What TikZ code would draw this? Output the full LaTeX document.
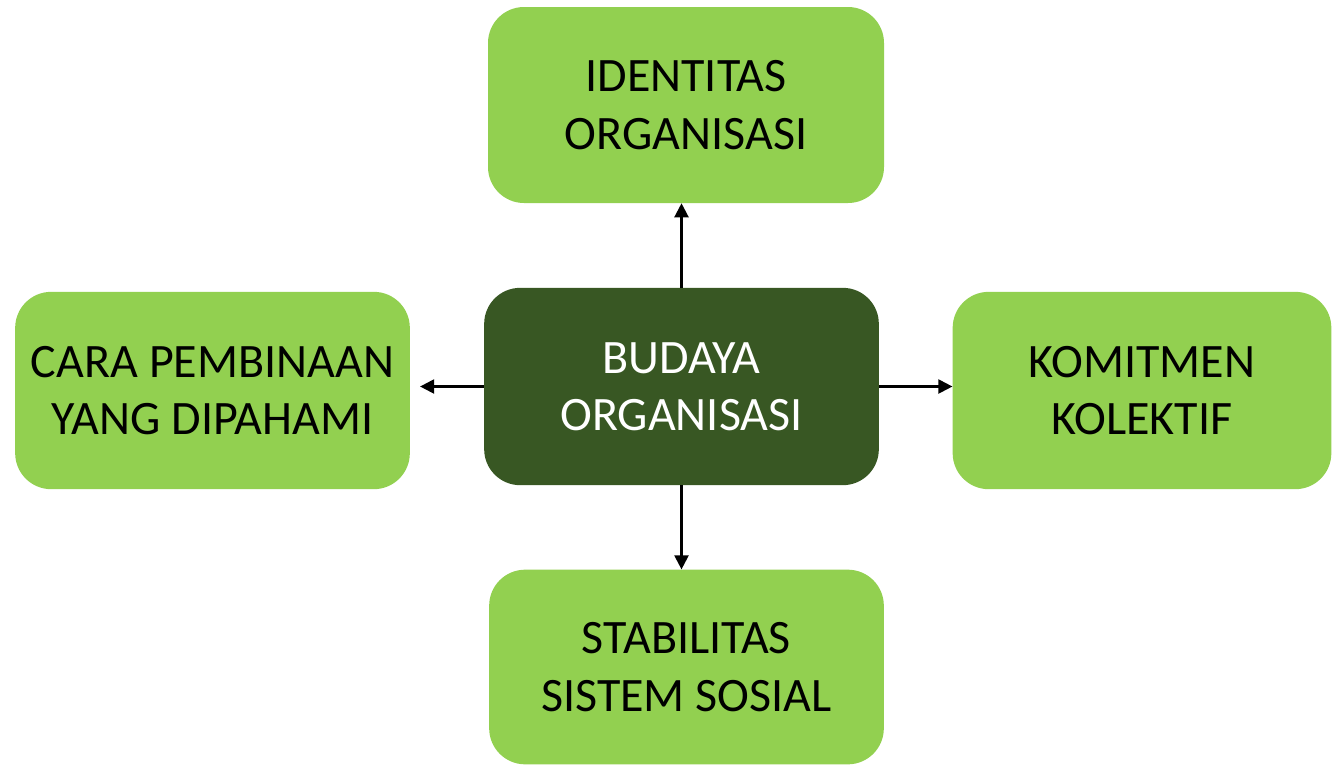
\documentclass[tikz,border=0pt]{standalone}
\usepackage{fontspec}
\setmainfont{Carlito}
\usepackage{tikz}
\usetikzlibrary{arrows.meta}

\definecolor{hijau}{HTML}{92D050}
\definecolor{hijautua}{HTML}{385723}

\begin{document}
\begin{tikzpicture}[x=0.75pt, y=-0.75pt, >={Triangle[length=10.5pt, width=10.5pt]}]
    % Bingkai gambar
    \useasboundingbox (0,0) rectangle (1332,765);

    \tikzset{
        kotak/.style={rounded corners=27pt, fill=hijau, text=black, align=center,
            font=\fontsize{36}{43}\selectfont, inner sep=0pt},
        pusat/.style={kotak, fill=hijautua, text=white},
        panah/.style={->, line width=1.6pt, black}
    }

    % Kotak tengah
    \node[pusat, minimum width=296pt, minimum height=148pt] (budaya) at (681.5,386.5) {BUDAYA\\ORGANISASI};

    % Kotak di sekeliling
    \node[kotak, minimum width=297pt, minimum height=147pt] (identitas) at (686,105) {IDENTITAS\\ORGANISASI};
    \node[kotak, minimum width=296pt, minimum height=148pt] (cara) at (212.5,390.5) {CARA PEMBINAAN\\YANG DIPAHAMI};
    \node[kotak, minimum width=284pt, minimum height=148pt] (komitmen) at (1142,390.5) {KOMITMEN\\KOLEKTIF};
    \node[kotak, minimum width=296pt, minimum height=146pt] (stabilitas) at (686.5,667) {STABILITAS\\SISTEM SOSIAL};

    % Panah
    \draw[panah] (budaya.north) -- (budaya.north |- identitas.south);
    \draw[panah] (budaya.south) -- (budaya.south |- stabilitas.north);
    \draw[panah, shorten >=7.5pt] (budaya.west) -- (budaya.west -| cara.east);
    \draw[panah] (budaya.east) -- (budaya.east -| komitmen.west);

\end{tikzpicture}
\end{document}
